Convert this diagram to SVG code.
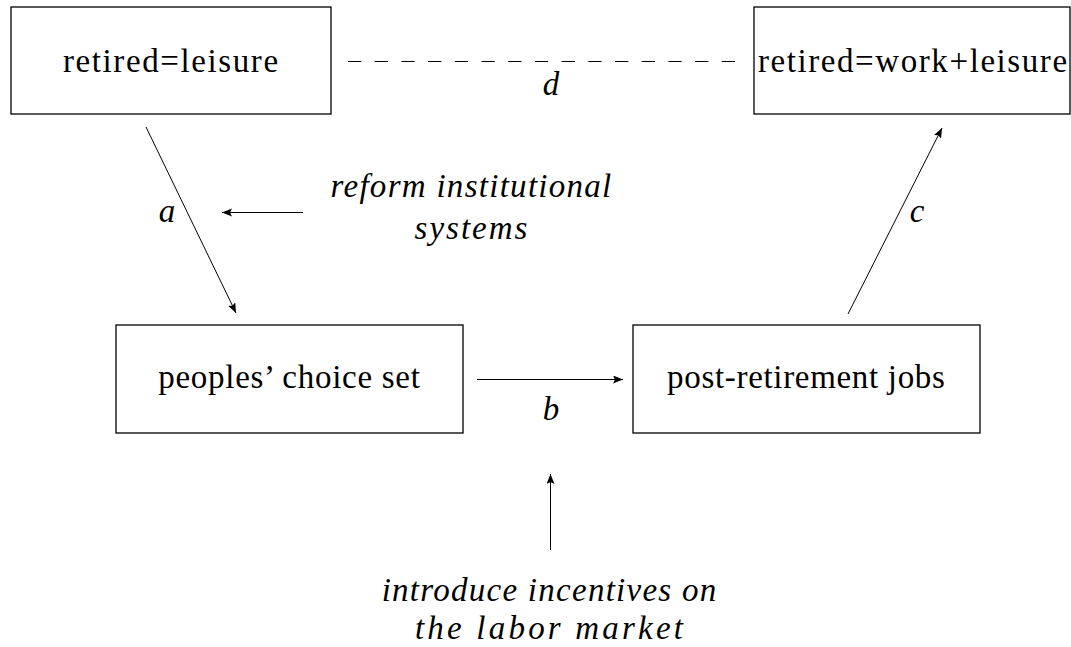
<svg xmlns="http://www.w3.org/2000/svg" width="1071" height="647" viewBox="0 0 1071 647">
<defs>
<marker id="ah" markerUnits="userSpaceOnUse" markerWidth="12" markerHeight="10" refX="10" refY="4" orient="auto">
<path d="M0,0 L10,4 L0,8 L2,4 Z" fill="#000"/>
</marker>
</defs>
<rect width="1071" height="647" fill="#fff"/>
<g id="n1">
<rect x="11" y="7" width="320" height="107" fill="#fff" stroke="#000" stroke-width="1.3"/>
<text x="171.3" y="72" font-family="Liberation Serif" font-size="33" text-anchor="middle" letter-spacing="1.6">retired=leisure</text>
</g>
<g id="n2">
<rect x="754" y="7" width="316" height="107" fill="#fff" stroke="#000" stroke-width="1.3"/>
<text x="913.3" y="72" font-family="Liberation Serif" font-size="33" text-anchor="middle" letter-spacing="1.58">retired=work+leisure</text>
</g>
<g id="n3">
<rect x="116" y="325" width="347" height="108" fill="#fff" stroke="#000" stroke-width="1.3"/>
<text x="289.4" y="388" font-family="Liberation Serif" font-size="33" text-anchor="middle" letter-spacing="0.72">peoples’ choice set</text>
</g>
<g id="n4">
<rect x="633" y="325" width="347" height="108" fill="#fff" stroke="#000" stroke-width="1.3"/>
<text x="806.3" y="388" font-family="Liberation Serif" font-size="33" text-anchor="middle" letter-spacing="0.68">post-retirement jobs</text>
</g>
<g id="n5">
<text x="471.6" y="197" font-family="Liberation Serif" font-style="italic" font-size="33" text-anchor="middle" letter-spacing="1.28">reform institutional</text>
<text x="472" y="239" font-family="Liberation Serif" font-style="italic" font-size="33" text-anchor="middle" letter-spacing="2">systems</text>
</g>
<g id="n6">
<text x="549.6" y="601" font-family="Liberation Serif" font-style="italic" font-size="33" text-anchor="middle" letter-spacing="1.27">introduce incentives on</text>
<text x="550.6" y="639" font-family="Liberation Serif" font-style="italic" font-size="33" text-anchor="middle" letter-spacing="3.2">the labor market</text>
</g>
<g id="connectors">
<line x1="348" y1="61.5" x2="735" y2="61.5" stroke="#000" stroke-width="1" stroke-dasharray="13.3 13.4"/>
<text x="551" y="95" font-family="Liberation Serif" font-style="italic" font-size="33" text-anchor="middle">d</text>
<line x1="146" y1="127" x2="236" y2="313" stroke="#000" stroke-width="1" marker-end="url(#ah)"/>
<text x="167" y="222" font-family="Liberation Serif" font-style="italic" font-size="33" text-anchor="middle">a</text>
<line x1="303" y1="212.5" x2="222" y2="212.5" stroke="#000" stroke-width="1" marker-end="url(#ah)"/>
<line x1="477" y1="379.5" x2="623" y2="379.5" stroke="#000" stroke-width="1" marker-end="url(#ah)"/>
<text x="551" y="420" font-family="Liberation Serif" font-style="italic" font-size="33" text-anchor="middle">b</text>
<line x1="848" y1="314" x2="942" y2="128" stroke="#000" stroke-width="1" marker-end="url(#ah)"/>
<text x="917" y="222" font-family="Liberation Serif" font-style="italic" font-size="33" text-anchor="middle">c</text>
<line x1="550.5" y1="550" x2="550.5" y2="474" stroke="#000" stroke-width="1" marker-end="url(#ah)"/>
</g>
</svg>
